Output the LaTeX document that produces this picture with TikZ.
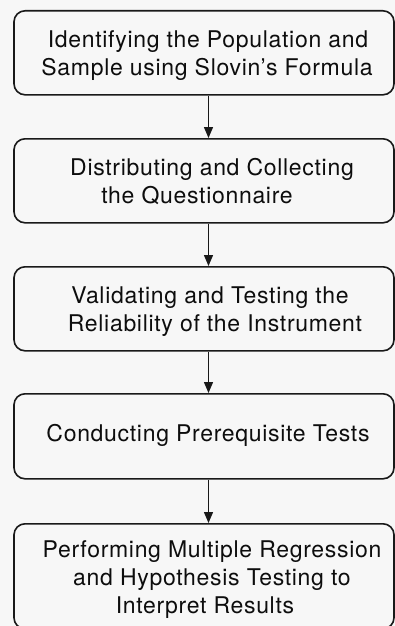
\documentclass[tikz,border=0pt]{standalone}
\usepackage{fontspec}
\setmainfont{TeX Gyre Heros}[LetterSpace=3]
\usetikzlibrary{arrows.meta}
\begin{document}
\begin{tikzpicture}[x=1pt,y=1pt,
  stepbox/.style={draw=black!90, line width=1.6pt, rounded corners=11pt,
    minimum width=380pt, inner sep=0pt, anchor=north},
  steptext/.style={align=center, font=\fontsize{23}{28}\selectfont,
    text=black!95, inner sep=0pt},
  flow/.style={draw=black!90, line width=1.3pt,
    -{Triangle[length=11pt,width=9pt]}}]
\useasboundingbox[fill=white!97!black] (0,0) rectangle (395,-626);

% the five process steps
\node[stepbox, minimum height=84pt]  (b1) at (204,-10)  {};
\node[stepbox, minimum height=84pt]  (b2) at (204,-138) {};
\node[stepbox, minimum height=84pt]  (b3) at (204,-266) {};
\node[stepbox, minimum height=85pt]  (b4) at (204,-393) {};
\node[stepbox, minimum height=105pt] (b5) at (204,-523) {};

\node[steptext] (t1) at (204,-56.2)
  {\strut\hspace*{8pt}Identifying the Population and\\
   \hspace*{6pt}Sample using Slovin’s Formula\strut};
\node[steptext] (t2) at (204,-183.6)
  {\strut\hspace*{16pt}Distributing and Collecting\\
   \hspace*{-14pt}the Questionnaire\strut};
\node[steptext] (t3) at (204,-311.4)
  {\strut\hspace*{12pt}Validating and Testing the\\
   \hspace*{22pt}Reliability of the Instrument\strut};
\node[steptext] (t4) at (204,-436.1)
  {\strut\hspace*{8pt}Conducting Prerequisite Tests\strut};
\node[steptext] (t5) at (204,-579.7)
  {\strut\hspace*{16pt}Performing Multiple Regression\\
   \hspace*{16pt}and Hypothesis Testing to\\
   \hspace*{2pt}Interpret Results\strut};

% connectors between consecutive steps
\coordinate (ax) at (208.5,0);
\draw[flow] (b1.south -| ax) -- (b2.north -| ax);
\draw[flow] (b2.south -| ax) -- (b3.north -| ax);
\draw[flow] (b3.south -| ax) -- (b4.north -| ax);
\draw[flow] (b4.south -| ax) -- (b5.north -| ax);
\end{tikzpicture}
\end{document}
